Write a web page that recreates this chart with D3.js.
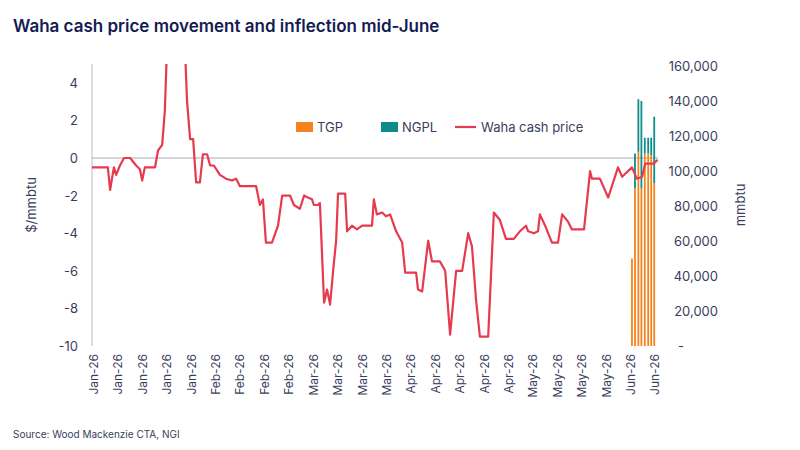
<!DOCTYPE html><html><head><meta charset="utf-8"><script src="https://cdn.jsdelivr.net/npm/d3@7"></script>
<style>body{margin:0;background:#fff;font-family:Inter,"Open Sans",sans-serif}</style></head><body><svg id="c" width="800" height="450"></svg>
<script>
const tickLabels=["Jan-26","Jan-26","Jan-26","Jan-26","Jan-26","Feb-26","Feb-26","Feb-26","Feb-26","Mar-26","Mar-26","Mar-26","Mar-26","Apr-26","Apr-26","Apr-26","Apr-26","Apr-26","May-26","May-26","May-26","May-26","Jun-26","Jun-26"];
const days=[0,4.2,4.8,5.8,6.4,7.4,8.5,10.1,11.7,12.7,13.3,14.0,16.7,17.5,18.6,19.3,19.9,24.6,25.2,26.0,26.8,27.6,28.6,29.4,30.5,31.3,32.3,33.9,35.5,37.1,38.2,39.2,41.9,43.5,44.5,45.3,46.1,47.7,49.3,50.4,52.5,53.5,55.1,56.2,57.2,58.3,58.8,59.9,60.4,61.5,62.3,63.1,63.9,64.7,65.2,67.1,67.6,68.9,70.2,71.6,73.2,74.2,74.7,75.5,76.9,77.9,79.0,80.6,82.2,83.0,84.8,85.9,86.4,87.5,89.1,90.1,92.2,93.6,94.9,96.5,98.1,99.7,100.7,101.8,102.8,105.0,106.5,108.1,109.7,111.8,113.4,115.0,115.6,117.1,118.2,118.7,120.3,121.9,123.5,124.6,126.2,127.2,130.4,132.0,132.5,134.6,136.8,139.4,140.5,143.1,144.4,145.8,146.6,148.8,149.9];
const waha=[-0.5,-0.5,-1.7,-0.5,-0.9,-0.4,0,0,-0.4,-0.6,-1.2,-0.5,-0.5,0.4,0.7,2.5,6,6,3,1,1,-1.3,-1.3,0.2,0.2,-0.4,-0.4,-0.9,-1.1,-1.2,-1.1,-1.5,-1.5,-1.5,-2.5,-2.2,-4.5,-4.5,-3.6,-2,-2,-2.5,-2.7,-2,-2.1,-2.2,-2.5,-2.5,-2.4,-7.7,-7,-7.8,-6,-4.4,-1.9,-1.9,-3.9,-3.6,-3.8,-3.6,-3.6,-3.6,-2.2,-3,-2.9,-3.1,-3.0,-3.9,-4.5,-6.1,-6.1,-6.1,-7,-7.1,-4.4,-5.5,-5.5,-6,-9.4,-6,-6,-4,-4.7,-7.6,-9.5,-9.5,-2.9,-3.3,-4.3,-4.3,-3.9,-3.6,-3.9,-4,-3.9,-3,-3.7,-4.5,-4.5,-3,-3.4,-3.8,-3.8,-0.7,-1.1,-1.1,-2.1,-0.5,-1,-0.5,-1.1,-1,-0.3,-0.3,-0.1];
const barDays=[143.1,143.9,144.8,145.6,146.5,147.4,148.2,149.0];
const tgp=[50000,90000,111000,90000,110000,110000,109000,93000];
const ngpl=[0,20000,30000,50000,9000,9000,10000,38000];

const svg=d3.select("#c"), txt="#3a3d5c";
svg.append("text").attr("x",13).attr("y",32).attr("fill","#141a52").attr("font-size",17).attr("font-weight",600).text("Waha cash price movement and inflection mid-June");
const L=92,R=658,T=64,B=346;
const x=d3.scaleLinear().domain([0,150]).range([L,R]);
const y=d3.scaleLinear().domain([-10,5]).range([B,T]);
const y2=d3.scaleLinear().domain([0,160000]).range([B,T+2]);
svg.append("line").attr("x1",L).attr("x2",L).attr("y1",T).attr("y2",B).attr("stroke","#bbb");
[4,2,0,-2,-4,-6,-8,-10].forEach(v=>svg.append("text").attr("x",78).attr("y",y(v)+5).attr("text-anchor","end").attr("font-size",13).attr("fill",txt).text(v));
svg.append("text").attr("transform","translate(36,205) rotate(-90)").attr("text-anchor","middle").attr("font-size",13).attr("fill",txt).text("$/mmbtu");
d3.range(0,160001,20000).forEach(v=>svg.append("text").attr("x",v?718:678).attr("y",y2(v)+5).attr("text-anchor",v?"end":"start").attr("font-size",13).attr("fill",txt).text(v?d3.format(",")(v):"-"));
svg.append("text").attr("transform","translate(745,205) rotate(-90)").attr("text-anchor","middle").attr("font-size",13).attr("fill",txt).text("mmbtu");
svg.append("line").attr("x1",L).attr("x2",R).attr("y1",y(0)).attr("y2",y(0)).attr("stroke","#aaa");
const step=148.8/(tickLabels.length-1);
tickLabels.forEach((t,i)=>{const xx=x(i*step)+1;
 svg.append("text").attr("transform",`translate(${xx+5},${354}) rotate(-90)`).attr("text-anchor","end").attr("font-size",12).attr("fill",txt).text(t);});
const bw=1.8;
barDays.forEach((d,i)=>{
 svg.append("rect").attr("x",x(d)-bw/2).attr("width",bw).attr("y",y2(tgp[i])).attr("height",B-y2(tgp[i])).attr("fill","#f5841f");
 if(ngpl[i]) svg.append("rect").attr("x",x(d)-bw/2).attr("width",bw).attr("y",y2(tgp[i]+ngpl[i])).attr("height",y2(tgp[i])-y2(tgp[i]+ngpl[i])).attr("fill","#0e8c8c");
});
svg.append("clipPath").attr("id","cp").append("rect").attr("x",L).attr("y",T).attr("width",R-L+5).attr("height",B-T);
svg.append("path").attr("clip-path","url(#cp)").datum(days.map((d,i)=>[d,waha[i]])).attr("fill","none").attr("stroke","#e63a4e").attr("stroke-width",2.2).attr("stroke-linejoin","round")
 .attr("d",d3.line().x(d=>x(d[0])).y(d=>y(d[1])));
const lg=svg.append("g").attr("font-size",13).attr("fill",txt);
lg.append("rect").attr("x",296).attr("y",122).attr("width",17).attr("height",10).attr("fill","#f5841f");
lg.append("text").attr("x",317).attr("y",132).text("TGP");
lg.append("rect").attr("x",381).attr("y",122).attr("width",17).attr("height",10).attr("fill","#0e8c8c");
lg.append("text").attr("x",402).attr("y",132).text("NGPL");
lg.append("line").attr("x1",455).attr("x2",476).attr("y1",127).attr("y2",127).attr("stroke","#e63a4e").attr("stroke-width",2.2);
lg.append("text").attr("x",481).attr("y",132).text("Waha cash price");
svg.append("text").attr("x",13).attr("y",438).attr("font-size",10).attr("fill",txt).text("Source:  Wood Mackenzie CTA, NGI");
</script></body></html>
